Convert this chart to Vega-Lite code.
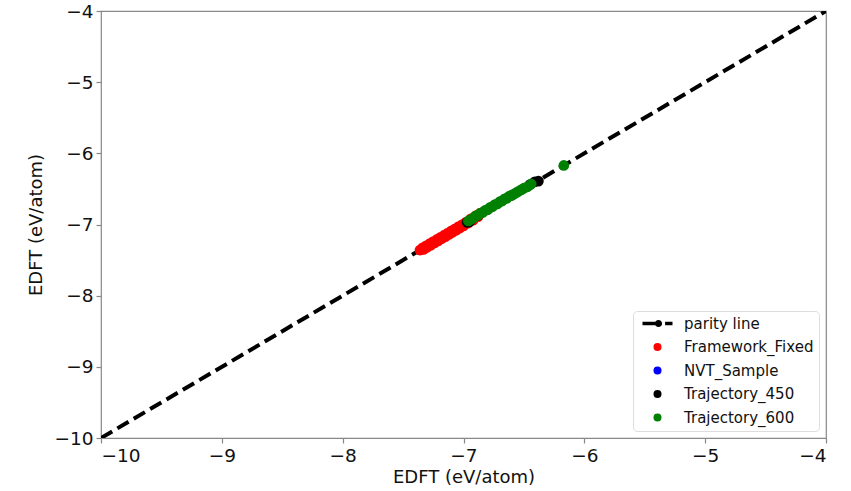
{
  "$schema": "https://vega.github.io/schema/vega-lite/v6.json",
  "width": 725,
  "height": 427,
  "autosize": {"type": "none"},
  "padding": {"left": 101, "top": 11, "right": 25, "bottom": 53},
  "config": {
    "font": "DejaVu Sans",
    "view": {"stroke": "#888", "strokeWidth": 1.2},
    "axis": {
      "grid": false,
      "domain": false,
      "tickColor": "#888",
      "tickSize": 5,
      "tickWidth": 1.2,
      "labelFontSize": 18.5,
      "labelColor": "#111",
      "titleFontSize": 18,
      "titleFontWeight": "normal",
      "titleColor": "#111"
    }
  },
  "datasets": {
    "parity": [
      {"x": -10, "y": -10},
      {"x": -4, "y": -4}
    ],
    "pts": [
      {"x": -7.36, "y": -7.36, "series": "Framework_Fixed"},
      {"x": -7.34, "y": -7.33, "series": "Framework_Fixed"},
      {"x": -7.33, "y": -7.35, "series": "Framework_Fixed"},
      {"x": -7.31, "y": -7.30, "series": "Framework_Fixed"},
      {"x": -7.30, "y": -7.32, "series": "Framework_Fixed"},
      {"x": -7.28, "y": -7.27, "series": "Framework_Fixed"},
      {"x": -7.27, "y": -7.29, "series": "Framework_Fixed"},
      {"x": -7.25, "y": -7.24, "series": "Framework_Fixed"},
      {"x": -7.24, "y": -7.26, "series": "Framework_Fixed"},
      {"x": -7.22, "y": -7.21, "series": "Framework_Fixed"},
      {"x": -7.21, "y": -7.23, "series": "Framework_Fixed"},
      {"x": -7.19, "y": -7.18, "series": "Framework_Fixed"},
      {"x": -7.18, "y": -7.20, "series": "Framework_Fixed"},
      {"x": -7.16, "y": -7.15, "series": "Framework_Fixed"},
      {"x": -7.15, "y": -7.17, "series": "Framework_Fixed"},
      {"x": -7.13, "y": -7.12, "series": "Framework_Fixed"},
      {"x": -7.12, "y": -7.14, "series": "Framework_Fixed"},
      {"x": -7.10, "y": -7.09, "series": "Framework_Fixed"},
      {"x": -7.09, "y": -7.11, "series": "Framework_Fixed"},
      {"x": -7.07, "y": -7.06, "series": "Framework_Fixed"},
      {"x": -7.06, "y": -7.08, "series": "Framework_Fixed"},
      {"x": -7.04, "y": -7.03, "series": "Framework_Fixed"},
      {"x": -7.03, "y": -7.05, "series": "Framework_Fixed"},
      {"x": -7.01, "y": -7.00, "series": "Framework_Fixed"},
      {"x": -7.00, "y": -7.02, "series": "Framework_Fixed"},
      {"x": -6.98, "y": -6.97, "series": "Framework_Fixed"},
      {"x": -6.96, "y": -6.98, "series": "Framework_Fixed"},
      {"x": -6.94, "y": -6.92, "series": "Framework_Fixed"},
      {"x": -6.92, "y": -6.94, "series": "Framework_Fixed"},
      {"x": -6.90, "y": -6.88, "series": "Framework_Fixed"},
      {"x": -6.88, "y": -6.89, "series": "Framework_Fixed"},
      {"x": -6.86, "y": -6.84, "series": "Framework_Fixed"},
      {"x": -6.97, "y": -6.97, "series": "Trajectory_450"},
      {"x": -6.95, "y": -6.96, "series": "Trajectory_450"},
      {"x": -6.88, "y": -6.87, "series": "Trajectory_450"},
      {"x": -6.80, "y": -6.79, "series": "Trajectory_450"},
      {"x": -6.60, "y": -6.59, "series": "Trajectory_450"},
      {"x": -6.45, "y": -6.44, "series": "Trajectory_450"},
      {"x": -6.41, "y": -6.40, "series": "Trajectory_450"},
      {"x": -6.38, "y": -6.39, "series": "Trajectory_450"},
      {"x": -6.96, "y": -6.95, "series": "Trajectory_600"},
      {"x": -6.94, "y": -6.93, "series": "Trajectory_600"},
      {"x": -6.92, "y": -6.91, "series": "Trajectory_600"},
      {"x": -6.90, "y": -6.88, "series": "Trajectory_600"},
      {"x": -6.88, "y": -6.87, "series": "Trajectory_600"},
      {"x": -6.86, "y": -6.84, "series": "Trajectory_600"},
      {"x": -6.84, "y": -6.83, "series": "Trajectory_600"},
      {"x": -6.82, "y": -6.80, "series": "Trajectory_600"},
      {"x": -6.80, "y": -6.79, "series": "Trajectory_600"},
      {"x": -6.78, "y": -6.76, "series": "Trajectory_600"},
      {"x": -6.76, "y": -6.75, "series": "Trajectory_600"},
      {"x": -6.74, "y": -6.72, "series": "Trajectory_600"},
      {"x": -6.72, "y": -6.71, "series": "Trajectory_600"},
      {"x": -6.70, "y": -6.68, "series": "Trajectory_600"},
      {"x": -6.68, "y": -6.67, "series": "Trajectory_600"},
      {"x": -6.66, "y": -6.64, "series": "Trajectory_600"},
      {"x": -6.64, "y": -6.63, "series": "Trajectory_600"},
      {"x": -6.62, "y": -6.60, "series": "Trajectory_600"},
      {"x": -6.60, "y": -6.59, "series": "Trajectory_600"},
      {"x": -6.58, "y": -6.57, "series": "Trajectory_600"},
      {"x": -6.56, "y": -6.55, "series": "Trajectory_600"},
      {"x": -6.54, "y": -6.53, "series": "Trajectory_600"},
      {"x": -6.52, "y": -6.51, "series": "Trajectory_600"},
      {"x": -6.50, "y": -6.49, "series": "Trajectory_600"},
      {"x": -6.47, "y": -6.47, "series": "Trajectory_600"},
      {"x": -6.44, "y": -6.43, "series": "Trajectory_600"},
      {"x": -6.17, "y": -6.17, "series": "Trajectory_600"}
    ]
  },
  "layer": [
    {
      "data": {"name": "parity"},
      "mark": {"type": "line", "color": "black", "strokeWidth": 4, "strokeDash": [13, 6], "clip": true},
      "encoding": {
        "x": {
          "field": "x", "type": "quantitative",
          "scale": {"domain": [-10, -4], "nice": false, "zero": false},
          "axis": {"values": [-10, -9, -8, -7, -6, -5, -4], "format": "d", "title": "EDFT (eV/atom)", "labelPadding": 3, "titlePadding": 4}
        },
        "y": {
          "field": "y", "type": "quantitative",
          "scale": {"domain": [-10, -4], "nice": false, "zero": false},
          "axis": {"values": [-10, -9, -8, -7, -6, -5, -4], "format": "d", "title": "EDFT (eV/atom)", "labelPadding": 3, "titlePadding": 8}
        }
      }
    },
    {
      "data": {"name": "pts"},
      "mark": {"type": "point", "filled": true, "opacity": 1, "size": 115},
      "encoding": {
        "x": {"field": "x", "type": "quantitative"},
        "y": {"field": "y", "type": "quantitative"},
        "color": {
          "field": "series", "type": "nominal",
          "scale": {
            "domain": ["parity line", "Framework_Fixed", "NVT_Sample", "Trajectory_450", "Trajectory_600"],
            "range": ["black", "red", "blue", "black", "green"]
          },
          "legend": {
            "title": null,
            "orient": "bottom-right",
            "offset": 7.5,
            "padding": 5,
            "strokeColor": "#ddd",
            "cornerRadius": 4,
            "fillColor": "white",
            "labelFontSize": 15,
            "labelColor": "#111",
            "labelOffset": 19,
            "symbolOffset": 12,
            "rowPadding": 7.5,
            "symbolSize": 64,
            "symbolStrokeWidth": 0
          }
        },
        "shape": {
          "field": "series", "type": "nominal",
          "scale": {
            "domain": ["parity line", "Framework_Fixed", "NVT_Sample", "Trajectory_450", "Trajectory_600"],
            "range": ["M-3.75,-0.45H0.4V0.45H-3.75Z M-0.65,0A0.9,0.9 0 1,1 1.15,0A0.9,0.9 0 1,1 -0.65,0Z M1.9,-0.45H3.75V0.45H1.9Z", "circle", "circle", "circle", "circle"]
          }
        }
      }
    }
  ]
}
